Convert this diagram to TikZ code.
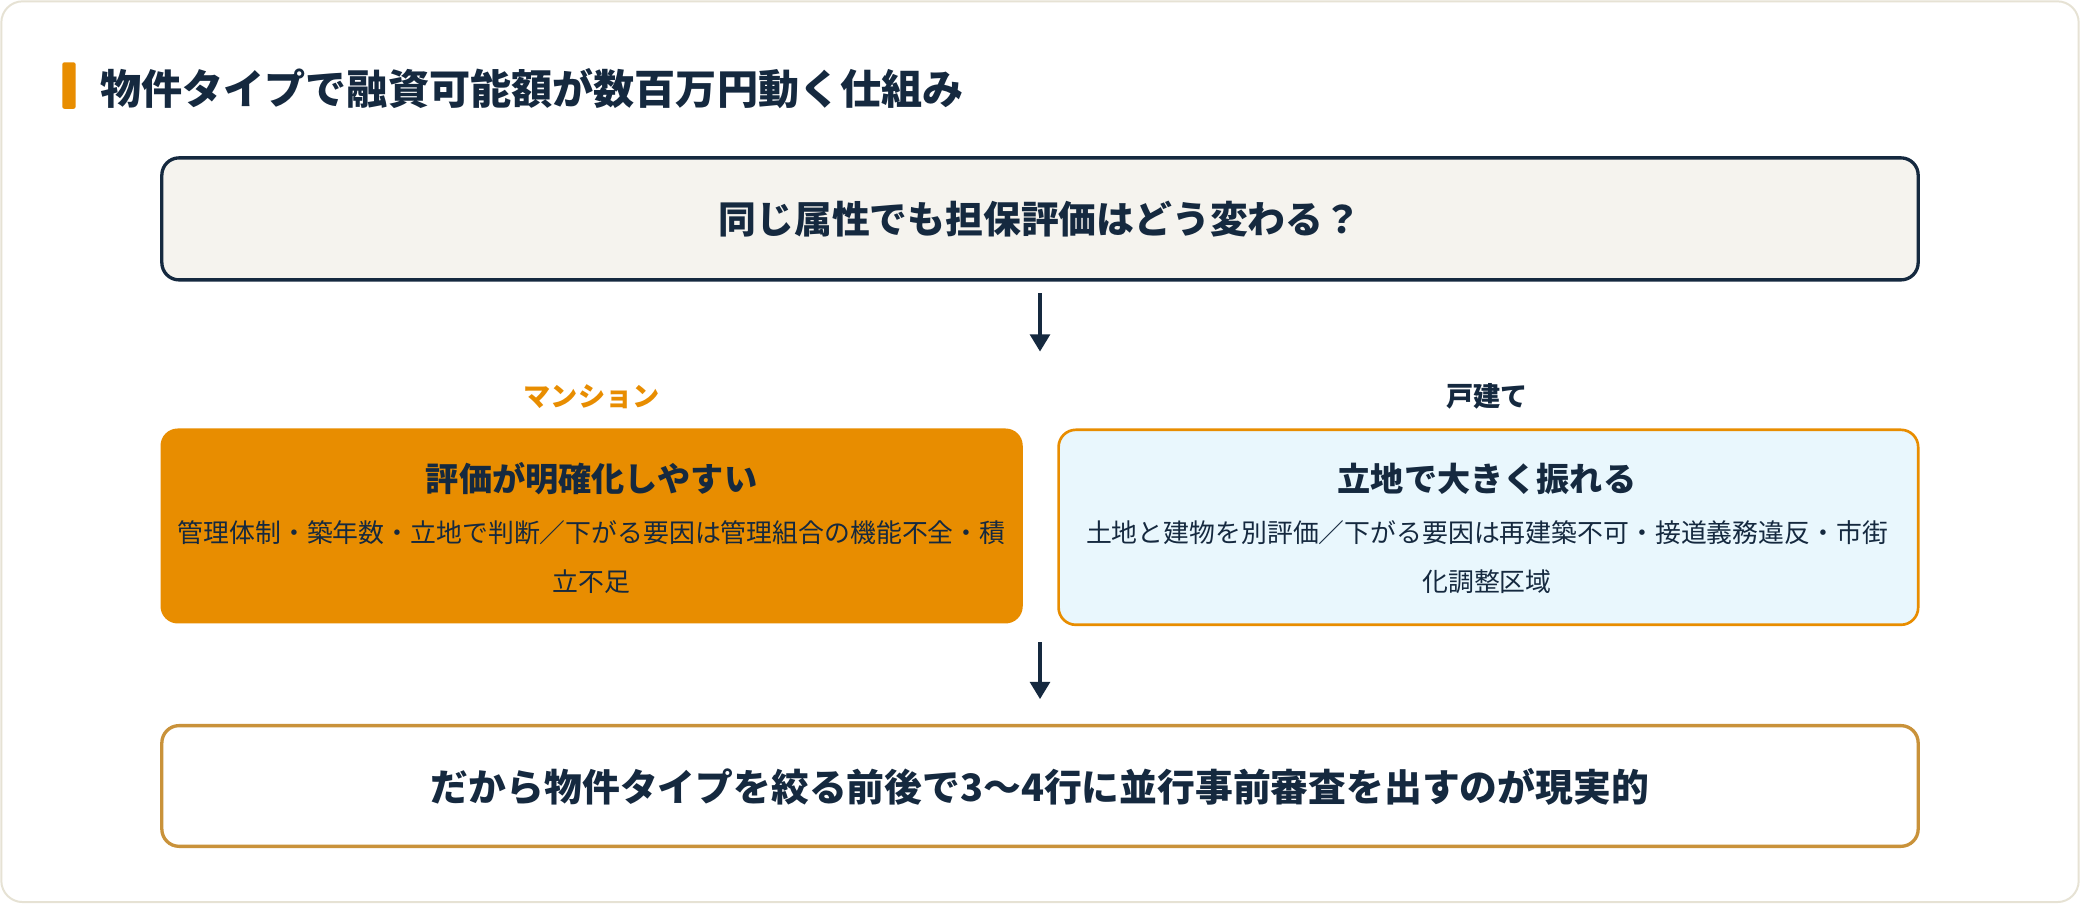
\documentclass[tikz,border=0pt]{standalone}
\usepackage{fontspec}
\setmainfont{Noto Sans CJK JP}
\usetikzlibrary{arrows.meta}
\definecolor{navy}{HTML}{15293F}
\definecolor{org}{HTML}{E88D00}
\definecolor{gold}{HTML}{C9923A}
\definecolor{cream}{HTML}{F5F3EE}
\definecolor{sky}{HTML}{E9F7FD}
\definecolor{edge}{HTML}{E6E2D4}
\begin{document}
\begin{tikzpicture}[x=1pt,y=-1pt,
  box/.style={rounded corners=13pt,line width=2.5pt},
  ttl/.style={font=\fontsize{28.5}{32}\selectfont\bfseries,text=navy},
  sub/.style={font=\fontsize{25}{30}\selectfont\bfseries,text=navy},
  body/.style={font=\fontsize{19.5}{37}\selectfont,text=navy,align=center,text width=660pt},
  arr/.style={-{Triangle[length=13pt,width=15pt]},line width=2.5pt,draw=navy}]
\useasboundingbox (0,0) rectangle (1568,681);
\draw[edge,line width=1.5pt,fill=white,rounded corners=16pt] (1,1) rectangle (1567,680);
\fill[org,rounded corners=1.5pt] (47,47) rectangle (57,82);
\node[anchor=west,font=\fontsize{31}{34}\selectfont\bfseries,text=navy] (title) at (72,67) {物件タイプで融資可能額が数百万円動く仕組み};
\draw[box,draw=navy,fill=cream] (122,119) rectangle (1446,211);
\node[ttl] (q) at (784,165) {同じ属性でも担保評価はどう変わる？};
\coordinate (a1s) at (784,221); \coordinate (a1e) at (784,265);
\draw[arr] (a1s) -- (a1e);
\node[font=\fontsize{20.5}{24}\selectfont\bfseries,text=org] (lm) at (446,299) {マンション};
\node[font=\fontsize{20.5}{24}\selectfont\bfseries,text=navy] (lk) at (1121,299) {戸建て};
\fill[org,rounded corners=13pt] (121,323) rectangle (771,470);
\node[sub] (lt) at (446,361) {評価が明確化しやすい};
\node[body] (lb) at (446,420) {管理体制・築年数・立地で判断／下がる要因は管理組合の機能不全・積\\立不足};
\draw[line width=2pt,draw=org,fill=sky,rounded corners=13pt] (798,324) rectangle (1446,471);
\node[sub] (rt) at (1121,361) {立地で大きく振れる};
\node[body] (rb) at (1121,420) {土地と建物を別評価／下がる要因は再建築不可・接道義務違反・市街\\化調整区域};
\coordinate (a2s) at (784,484); \coordinate (a2e) at (784,527);
\draw[arr] (a2s) -- (a2e);
\draw[box,draw=gold,fill=white] (122,547) rectangle (1446,638);
\node[ttl] (c) at (784,593) {だから物件タイプを絞る前後で3〜4行に並行事前審査を出すのが現実的};
\end{tikzpicture}
\end{document}
